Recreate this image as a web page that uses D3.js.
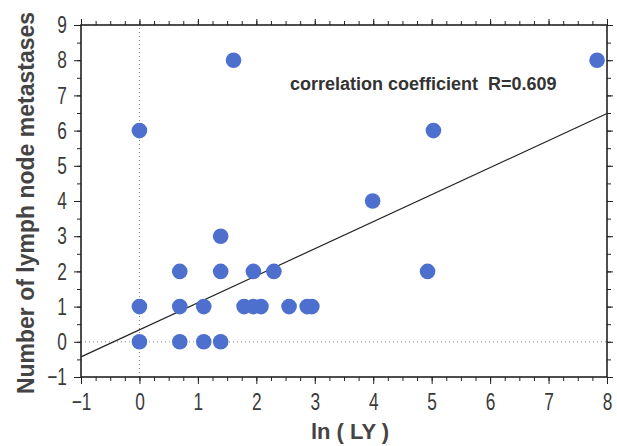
<!DOCTYPE html>
<html>
<head>
<meta charset="utf-8">
<script src="https://cdn.jsdelivr.net/npm/d3@7"></script>
<style>
  body { margin: 0; background: #fff; }
</style>
</head>
<body>
<script>
// ln(LY) values and node counts
var lnLY = [0, 0, 0, 0.69, 0.69, 0.69, 1.1, 1.1, 1.39, 1.39, 1.39,
            1.61, 1.79, 1.95, 1.95, 2.08, 2.3, 2.56, 2.87, 2.95,
            3.99, 4.93, 5.03, 7.83];
var nodes = [6, 1, 0, 2, 1, 0, 1, 0, 3, 2, 0,
             8, 1, 2, 1, 1, 2, 1, 1, 1,
             4, 2, 6, 8];
var xTicks = [-1, 0, 1, 2, 3, 4, 5, 6, 7, 8];
var yTicks = [-1, 0, 1, 2, 3, 4, 5, 6, 7, 8, 9];
var fitIntercept = 0.34;
var fitSlope = 0.768;
var note = 'correlation coefficient  R=0.609';

var width = 617, height = 446;
var margin = {left: 81, right: 10, top: 25, bottom: 69};

var svg = d3.select('body')
  .append('svg')
  .attr('width', width)
  .attr('height', height);

var x = d3.scaleLinear().domain([-1, 8]).range([margin.left, width - margin.right]);
var y = d3.scaleLinear().domain([-1, 9]).range([height - margin.bottom, margin.top]);

var data = lnLY.map(function(v, i) { return {x: v, y: nodes[i]}; });

// dotted zero lines
svg.append('line')
  .attr('x1', x(0)).attr('x2', x(0))
  .attr('y1', y(-1)).attr('y2', y(9))
  .attr('stroke', '#888').attr('stroke-width', 1)
  .attr('stroke-dasharray', '1,3');
svg.append('line')
  .attr('x1', x(-1)).attr('x2', x(8))
  .attr('y1', y(0)).attr('y2', y(0))
  .attr('stroke', '#888').attr('stroke-width', 1)
  .attr('stroke-dasharray', '1,3');

// minor ticks
var xMinor = d3.range(-1, 8.001, 0.25);
var yMinor = d3.range(-1, 9.001, 0.5);

function drawAxis(axis, transform, minor) {
  var g = svg.append('g').attr('transform', transform);
  g.call(axis.tickValues(minor).tickSize(4).tickFormat(''));
  return g;
}

drawAxis(d3.axisBottom(x), 'translate(0,' + y(-1) + ')', xMinor);
drawAxis(d3.axisTop(x), 'translate(0,' + y(9) + ')', xMinor);
drawAxis(d3.axisLeft(y), 'translate(' + x(-1) + ',0)', yMinor);
drawAxis(d3.axisRight(y), 'translate(' + x(8) + ',0)', yMinor);

var xAxis = svg.append('g')
  .attr('transform', 'translate(0,' + y(-1) + ')')
  .call(d3.axisBottom(x).tickValues(xTicks).tickSize(7).tickPadding(9));
var yAxis = svg.append('g')
  .attr('transform', 'translate(' + x(-1) + ',0)')
  .call(d3.axisLeft(y).tickValues(yTicks).tickSize(7).tickPadding(4));
svg.append('g')
  .attr('transform', 'translate(0,' + y(9) + ')')
  .call(d3.axisTop(x).tickValues(xTicks).tickSize(6).tickFormat(''));
svg.append('g')
  .attr('transform', 'translate(' + x(8) + ',0)')
  .call(d3.axisRight(y).tickValues(yTicks).tickSize(6).tickFormat(''));

svg.selectAll('.domain').remove();
svg.selectAll('.tick line').attr('stroke', '#222');
svg.selectAll('.tick text')
  .attr('font-family', 'Liberation Sans, Arial, sans-serif')
  .attr('font-size', 24)
  .attr('fill', '#3a3a3a');
// narrow digits like the original
xAxis.selectAll('.tick text').attr('transform', 'scale(0.72,1)');
yAxis.selectAll('.tick text')
  .attr('x', -19.5)
  .attr('transform', 'scale(0.72,1)');

// frame
svg.append('rect')
  .attr('x', x(-1)).attr('y', y(9))
  .attr('width', x(8) - x(-1)).attr('height', y(-1) - y(9))
  .attr('fill', 'none').attr('stroke', '#222').attr('stroke-width', 1.6);

// regression line
svg.append('line')
  .attr('x1', x(-1)).attr('y1', y(fitIntercept - fitSlope))
  .attr('x2', x(8)).attr('y2', y(fitIntercept + 8 * fitSlope))
  .attr('stroke', '#222').attr('stroke-width', 1.2);

svg.selectAll('circle.pt')
  .data(data)
  .enter()
  .append('circle')
  .attr('class', 'pt')
  .attr('cx', function(d) { return x(d.x); })
  .attr('cy', function(d) { return y(d.y); })
  .attr('r', 7.8)
  .attr('fill', '#4d6fcd');

svg.append('text')
  .attr('x', 290).attr('y', 90)
  .attr('font-family', 'Liberation Sans, Arial, sans-serif')
  .attr('font-weight', 'bold')
  .attr('font-size', 18)
  .attr('fill', '#333')
  .style('white-space', 'pre')
  .text(note);

svg.append('text')
  .attr('x', 350).attr('y', 439)
  .attr('text-anchor', 'middle')
  .attr('font-family', 'Liberation Sans, Arial, sans-serif')
  .attr('font-weight', 'bold')
  .attr('font-size', 22)
  .attr('fill', '#444')
  .style('white-space', 'pre')
  .text('ln ( LY )');

svg.append('text')
  .attr('transform', 'translate(34,203) rotate(-90)')
  .attr('text-anchor', 'middle')
  .attr('font-family', 'Liberation Sans, Arial, sans-serif')
  .attr('font-weight', 'bold')
  .attr('font-size', 23)
  .attr('fill', '#444')
  .text('Number of lymph node metastases');
</script>
</body>
</html>
